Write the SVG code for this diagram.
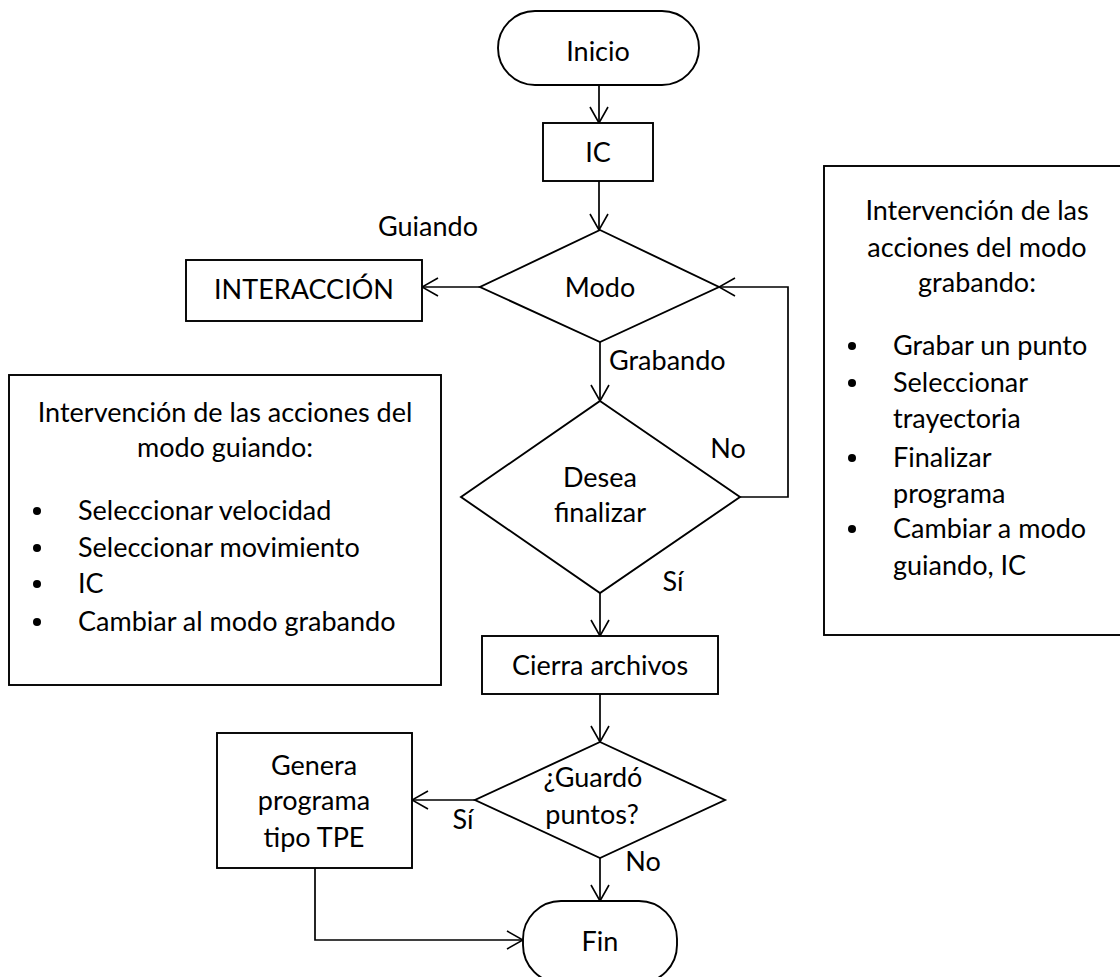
<svg xmlns="http://www.w3.org/2000/svg" width="1120" height="977" viewBox="0 0 1120 977">
  <defs>
    <marker id="arrow" markerUnits="userSpaceOnUse" markerWidth="18" markerHeight="20" viewBox="0 0 18 20" refX="17" refY="10" orient="auto">
      <path d="M1,1 L17,10 L1,19" fill="none" stroke="#000" stroke-width="1.6"/>
    </marker>
  </defs>
  <style>
    .shape { fill: #fff; stroke: #000; stroke-width: 1.9; }
    .line { fill: none; stroke: #000; stroke-width: 1.7; marker-end: url(#arrow); }
    text { font-family: Lato, "Open Sans", sans-serif; font-size: 27px; fill: #000; }
    .c { text-anchor: middle; }
  </style>
  <rect width="1120" height="977" fill="#fff"/>

  <!-- connectors and branch labels -->
  <g id="connectors">
    <line class="line" x1="599" y1="85" x2="599" y2="123"/>
    <line class="line" x1="599" y1="181" x2="599" y2="230"/>
    <line class="line" x1="480" y1="287" x2="422" y2="287"/>
    <line class="line" x1="600" y1="342" x2="600" y2="401"/>
    <polyline class="line" points="740,497 788,497 788,287 719,287"/>
    <line class="line" x1="600" y1="593" x2="600" y2="636"/>
    <line class="line" x1="600" y1="694" x2="600" y2="742"/>
    <line class="line" x1="475" y1="800" x2="412" y2="800"/>
    <line class="line" x1="600" y1="858" x2="600" y2="901"/>
    <polyline class="line" points="315,868 315,940 523,940"/>
    <text x="428" y="236" class="c">Guiando</text>
    <text x="609" y="370">Grabando</text>
    <text x="728" y="458" class="c">No</text>
    <text x="673" y="591" class="c">Sí</text>
    <text x="463" y="829" class="c">Sí</text>
    <text x="643" y="871" class="c">No</text>
  </g>

  <g id="inicio">
    <rect class="shape" x="498" y="11" width="201" height="74" rx="37" ry="37"/>
    <text x="598" y="61" class="c">Inicio</text>
  </g>

  <g id="ic">
    <rect class="shape" x="543" y="123" width="110" height="58"/>
    <text x="598" y="162" class="c">IC</text>
  </g>

  <g id="modo">
    <polygon class="shape" points="600,230 719,287 600,342 480,287"/>
    <text x="600" y="297" class="c">Modo</text>
  </g>

  <g id="interaccion">
    <rect class="shape" x="186" y="260" width="236" height="61"/>
    <text x="304" y="299" class="c">INTERACCIÓN</text>
  </g>

  <g id="desea-finalizar">
    <polygon class="shape" points="600,401 740,497 600,593 461,497"/>
    <text x="600" y="487" class="c">Desea</text>
    <text x="600" y="522" class="c">finalizar</text>
  </g>

  <g id="cierra-archivos">
    <rect class="shape" x="482" y="636" width="236" height="58"/>
    <text x="600" y="675" class="c">Cierra archivos</text>
  </g>

  <g id="guardo-puntos">
    <polygon class="shape" points="600,742 725,800 600,858 475,800"/>
    <text x="593" y="787" class="c">¿Guardó</text>
    <text x="592" y="824" class="c">puntos?</text>
  </g>

  <g id="genera-programa">
    <rect class="shape" x="217" y="733" width="195" height="135"/>
    <text x="314" y="775" class="c">Genera</text>
    <text x="314" y="810" class="c">programa</text>
    <text x="314" y="847" class="c">tipo TPE</text>
  </g>

  <g id="fin">
    <rect class="shape" x="523" y="901" width="154" height="82" rx="38" ry="38"/>
    <text x="600" y="951" class="c">Fin</text>
  </g>

  <g id="nota-guiando">
    <rect class="shape" x="9" y="375" width="432" height="310"/>
    <text x="225" y="422" class="c">Intervención de las acciones del</text>
    <text x="225" y="457" class="c">modo guiando:</text>
    <circle cx="37" cy="511" r="4"/>
    <text x="78" y="520">Seleccionar velocidad</text>
    <circle cx="37" cy="548" r="4"/>
    <text x="78" y="557">Seleccionar movimiento</text>
    <circle cx="37" cy="584" r="4"/>
    <text x="78" y="593">IC</text>
    <circle cx="37" cy="622" r="4"/>
    <text x="78" y="631">Cambiar al modo grabando</text>
  </g>

  <g id="nota-grabando">
    <rect class="shape" x="824" y="166" width="300" height="469"/>
    <text x="977" y="220" class="c">Intervención de las</text>
    <text x="977" y="257" class="c">acciones del modo</text>
    <text x="977" y="292" class="c">grabando:</text>
    <circle cx="852" cy="346" r="4"/>
    <text x="893" y="355">Grabar un punto</text>
    <circle cx="852" cy="383" r="4"/>
    <text x="893" y="392">Seleccionar</text>
    <text x="893" y="428">trayectoria</text>
    <circle cx="852" cy="458" r="4"/>
    <text x="893" y="467">Finalizar</text>
    <text x="893" y="503">programa</text>
    <circle cx="852" cy="529" r="4"/>
    <text x="893" y="538">Cambiar a modo</text>
    <text x="893" y="575">guiando, IC</text>
  </g>
</svg>
